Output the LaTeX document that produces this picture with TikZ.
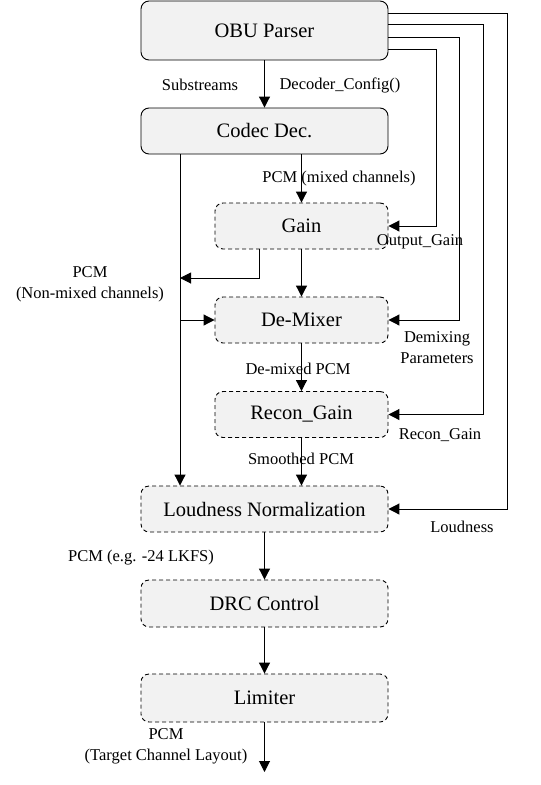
\documentclass[tikz,border=0pt]{standalone}
\usepackage{fontspec}
\setmainfont{Liberation Serif}
\usetikzlibrary{arrows.meta}
\definecolor{boxfill}{HTML}{F2F2F2}
\tikzset{
  base/.style={rounded corners=8pt, fill=boxfill, line width=0.9pt, inner sep=0pt,
    font=\rmfamily\fontsize{20.5}{24}\selectfont},
  solidbox/.style={base, draw=black},
  dashbox/.style={base, draw=black, dash pattern=on 4pt off 3pt},
  arr/.style={line width=1pt, -{Triangle[length=11pt,width=11pt]}},
  lbl/.style={font=\rmfamily\fontsize{16.5}{20.5}\selectfont, inner sep=0pt, align=center}
}
\begin{document}
\begin{tikzpicture}[x=1pt,y=-1pt]
\useasboundingbox[fill=white] (0,0) rectangle (541,785);
% boxes
\node[solidbox, minimum width=247pt, minimum height=59pt] (obu) at (264.5,30.5) {OBU Parser};
\node[solidbox, minimum width=247pt, minimum height=46pt] (codec) at (264.5,131) {Codec Dec.};
\node[dashbox, minimum width=173pt, minimum height=46pt] (gain) at (301.5,226) {Gain};
\node[dashbox, minimum width=173pt, minimum height=46pt] (demix) at (301.5,320) {De-Mixer};
\node[dashbox, minimum width=173pt, minimum height=46pt] (recon) at (301.5,414.5) {Recon\_Gain};
\node[dashbox, minimum width=247pt, minimum height=46pt] (loud) at (264.5,509) {Loudness Normalization};
\node[dashbox, minimum width=247pt, minimum height=47pt] (drc) at (264.5,603.5) {DRC Control};
\node[dashbox, minimum width=247pt, minimum height=48pt] (lim) at (264.5,698) {Limiter};
% helper coordinates
\coordinate (xl) at (180,0);
\coordinate (xb) at (259,278);
\coordinate (x1) at (507,0);
\coordinate (x2) at (483,0);
\coordinate (x3) at (459,0);
\coordinate (x4) at (436,0);
\coordinate (out) at (264.5,772);
% main flow
\draw[arr] (obu.south) -- (codec.north);
\draw[arr] (codec.south -| xl) -- (loud.north -| xl);
\draw[arr] (codec.south -| gain.north) -- (gain.north);
\draw[arr] (gain.south) -- (demix.north);
\draw[arr] (gain.south -| xb) -- (xb) -- (xl |- xb);
\draw[arr] (xl |- demix.west) -- (demix.west);
\draw[arr] (demix.south) -- (recon.north);
\draw[arr] (recon.south) -- (recon.south |- loud.north);
\draw[arr] (loud.south) -- (drc.north);
\draw[arr] (drc.south) -- (lim.north);
\draw[arr] (lim.south) -- (out);
% side feeds from OBU parser
\draw[arr] ([yshift=17pt]obu.east) -| (x1 |- loud.east) -- (loud.east);
\draw[arr] ([yshift=6pt]obu.east) -| (x2 |- recon.east) -- (recon.east);
\draw[arr] ([yshift=-6.5pt]obu.east) -| (x3 |- demix.east) -- (demix.east);
\draw[arr] ([yshift=-18.5pt]obu.east) -| (x4 |- gain.east) -- (gain.east);
% labels
\node[lbl] (l1) at (200,85) {Substreams};
\node[lbl] (l2) at (340,85) {Decoder\_Config()};
\node[lbl] (l3) at (339,179) {PCM (mixed channels)};
\node[lbl] (l4) at (420,242) {Output\_Gain};
\node[lbl] (l5) at (90,284.5) {PCM\\(Non-mixed channels)};
\node[lbl] (l6) at (437,347.5) {Demixing\\Parameters};
\node[lbl] (l7) at (298,369) {De-mixed PCM};
\node[lbl] (l8) at (440,435) {Recon\_Gain};
\node[lbl] (l9) at (301,459) {Smoothed PCM};
\node[lbl] (l10) at (462,527) {Loudness};
\node[lbl] (l11) at (141,558) {PCM (e.g. -24 LKFS)};
\node[lbl] (l12) at (166,746.5) {PCM\\(Target Channel Layout)};
\end{tikzpicture}
\end{document}
